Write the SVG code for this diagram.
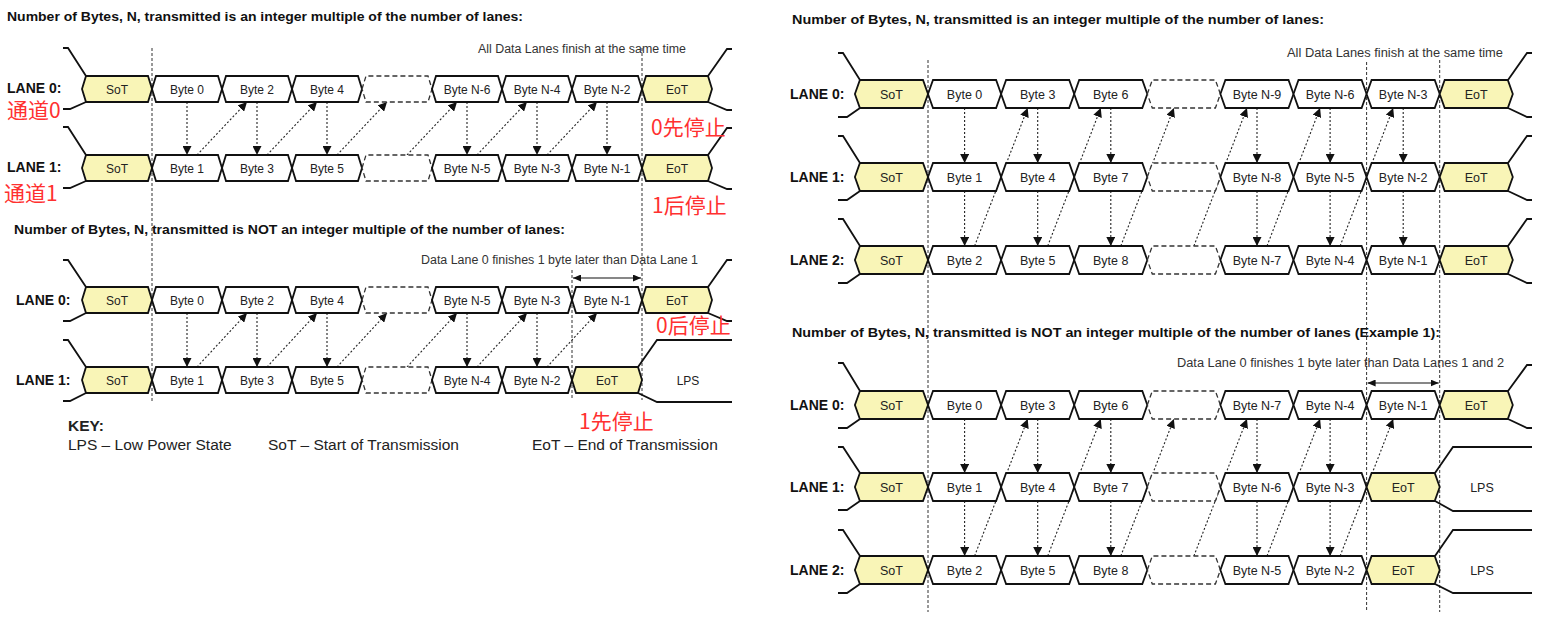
<svg xmlns="http://www.w3.org/2000/svg" width="1561" height="625" viewBox="0 0 1561 625">
<style>
text{font-family:"Liberation Sans",Arial,sans-serif}
.lbl{font-size:12px;fill:#222;text-anchor:middle}
.rl{font-size:12.5px}
.ttl{font-size:12px;font-weight:bold;fill:#111}
.lane{font-size:14px;font-weight:bold;fill:#111}
.red{font-family:"Noto Sans CJK SC","Noto Sans",sans-serif;font-size:21px;fill:#ff3030}
.note{font-size:12px;fill:#333}
.key{font-size:15.5px;fill:#222}
.bx{fill:#fff;stroke:#111;stroke-width:1.8}
.ct{fill:#f9f5b7;stroke:#111;stroke-width:1.8}
.dx{fill:#fff;stroke:#333;stroke-width:1.3;stroke-dasharray:5 3}
.lead{fill:none;stroke:#111;stroke-width:1.8}
.tl{fill:none;stroke:#333;stroke-width:1;stroke-dasharray:3 2}
.ar{fill:none;stroke:#222;stroke-width:1.1;stroke-dasharray:2 2;marker-end:url(#ah)}
.dbl{fill:none;stroke:#111;stroke-width:1.1;marker-start:url(#ad);marker-end:url(#ad)}
</style>
<defs>
<path id="L" d="M0,13 L4,0 H66 L70,13 L66,26 H4 Z"/>
<path id="R" d="M0,14 L5,0 H68.1 L73.1,14 L68.1,28 H5 Z"/>
<marker id="ah" markerWidth="9" markerHeight="9" refX="9" refY="4.5" orient="auto" markerUnits="userSpaceOnUse"><path d="M0,0 L9,4.5 L0,9 Z" fill="#111"/></marker>
<marker id="ad" markerWidth="8" markerHeight="7" refX="8" refY="3.5" orient="auto-start-reverse" markerUnits="userSpaceOnUse"><path d="M0,0 L8,3.5 L0,7 Z" fill="#111"/></marker>
</defs>
<rect width="1561" height="625" fill="#fff"/>

<g id="connectors">
<!-- timing lines -->
<path class="tl" d="M152,48 V402 M642,48 V400 M572,270 V400"/>
<path class="tl" d="M928,60 V612 M1366.6,62 V612 M1439.7,60 V612"/>
<!-- leads top-left -->
<path class="lead" d="M63,48 H68 L86,76 M86,102 L70,109 H63 M63,127 H68 L86,155 M86,181 L70,188 H63"/>
<path class="lead" d="M708,76 L727,49 H732 M708,102 L727,110 H732 M708,155 L727,128 H732 M708,181 L727,189 H732"/>
<!-- leads lower-left -->
<path class="lead" d="M63,260 H68 L86,287 M86,313 L70,321 H63 M63,340 H68 L86,367 M86,393 L70,401 H63"/>
<path class="lead" d="M708,287 L727,260 H732 M708,313 L727,321 H732 M638,367 L657,340 H732 M638,393 L657,402 H732"/>
<!-- leads top-right -->
<path class="lead" d="M838,53 H843 L860,80 M860,108 L847,117 H838 M838,136 H843 L860,163 M860,191 L847,200 H838 M838,219 H843 L860,246 M860,274 L847,283 H838"/>
<path class="lead" d="M1508,80 L1527,53 H1532 M1508,108 L1527,117 H1532 M1508,163 L1527,136 H1532 M1508,191 L1527,200 H1532 M1508,246 L1527,219 H1532 M1508,274 L1527,283 H1532"/>
<!-- leads bottom-right -->
<path class="lead" d="M838,363 H843 L860,391 M860,419 L847,428 H838 M838,447 H843 L860,473 M860,501 L847,510 H838 M838,530 H843 L860,556 M860,584 L847,593 H838"/>
<path class="lead" d="M1508,391 L1527,365 H1532 M1508,419 L1527,428 H1532 M1435,473 L1453,447 H1532 M1435,501 L1453,511 H1532 M1435,556 L1453,530 H1532 M1435,584 L1453,593 H1532"/>
<!-- arrows top-left -->
<path class="ar" d="M187,102 V155"/><path class="ar" d="M257,102 V155"/><path class="ar" d="M327,102 V155"/>
<path class="ar" d="M467,102 V155"/><path class="ar" d="M537,102 V155"/><path class="ar" d="M607,102 V155"/>
<path class="ar" d="M197,155 L247,102"/><path class="ar" d="M267,155 L317,102"/><path class="ar" d="M337,155 L387,102"/>
<path class="ar" d="M407,155 L457,102"/><path class="ar" d="M477,155 L527,102"/><path class="ar" d="M547,155 L597,102"/>
<!-- arrows lower-left -->
<path class="ar" d="M187,313 V367"/><path class="ar" d="M257,313 V367"/><path class="ar" d="M327,313 V367"/>
<path class="ar" d="M467,313 V367"/><path class="ar" d="M537,313 V367"/>
<path class="ar" d="M197,367 L247,313"/><path class="ar" d="M267,367 L317,313"/><path class="ar" d="M337,367 L387,313"/>
<path class="ar" d="M407,367 L457,313"/><path class="ar" d="M477,367 L527,313"/><path class="ar" d="M547,367 L597,313"/>
<path class="dbl" d="M573,278 H641"/>
<!-- arrows top-right -->
<path class="ar" d="M964.6,108 V163"/><path class="ar" d="M1037.7,108 V163"/><path class="ar" d="M1110.8,108 V163"/>
<path class="ar" d="M1257,108 V163"/><path class="ar" d="M1330.1,108 V163"/><path class="ar" d="M1403.2,108 V163"/>
<path class="ar" d="M964.6,191 V246"/><path class="ar" d="M1037.7,191 V246"/><path class="ar" d="M1110.8,191 V246"/>
<path class="ar" d="M1257,191 V246"/><path class="ar" d="M1330.1,191 V246"/><path class="ar" d="M1403.2,191 V246"/>
<path class="ar" d="M974.6,246 L1027.7,108"/><path class="ar" d="M1047.7,246 L1100.8,108"/><path class="ar" d="M1120.8,246 L1173.9,108"/>
<path class="ar" d="M1193.9,246 L1247,108"/><path class="ar" d="M1267,246 L1320.1,108"/><path class="ar" d="M1340.1,246 L1393.2,108"/>
<!-- arrows bottom-right -->
<path class="ar" d="M964.6,419 V473"/><path class="ar" d="M1037.7,419 V473"/><path class="ar" d="M1110.8,419 V473"/>
<path class="ar" d="M1257,419 V473"/><path class="ar" d="M1330.1,419 V473"/>
<path class="ar" d="M964.6,501 V556"/><path class="ar" d="M1037.7,501 V556"/><path class="ar" d="M1110.8,501 V556"/>
<path class="ar" d="M1257,501 V556"/><path class="ar" d="M1330.1,501 V556"/>
<path class="ar" d="M974.6,556 L1027.7,419"/><path class="ar" d="M1047.7,556 L1100.8,419"/><path class="ar" d="M1120.8,556 L1173.9,419"/>
<path class="ar" d="M1193.9,556 L1247,419"/><path class="ar" d="M1267,556 L1320.1,419"/><path class="ar" d="M1340.1,556 L1393.2,419"/>
<path class="dbl" d="M1367.6,383 H1438.7"/>
</g>

<!-- titles and notes -->
<text class="ttl" x="7" y="21" textLength="516" lengthAdjust="spacingAndGlyphs">Number of Bytes, N, transmitted is an integer multiple of the number of lanes:</text>
<text class="ttl" x="14" y="234" textLength="551" lengthAdjust="spacingAndGlyphs">Number of Bytes, N, transmitted is NOT an integer multiple of the number of lanes:</text>
<text class="ttl" x="792" y="24" textLength="532" lengthAdjust="spacingAndGlyphs">Number of Bytes, N, transmitted is an integer multiple of the number of lanes:</text>
<text class="ttl" x="792" y="337" textLength="648" lengthAdjust="spacingAndGlyphs">Number of Bytes, N, transmitted is NOT an integer multiple of the number of lanes (Example 1):</text>
<text class="note" x="478" y="53" textLength="208" lengthAdjust="spacingAndGlyphs">All Data Lanes finish at the same time</text>
<text class="note" x="1287" y="57" textLength="216" lengthAdjust="spacingAndGlyphs">All Data Lanes finish at the same time</text>
<text class="note" x="421" y="264" textLength="277" lengthAdjust="spacingAndGlyphs">Data Lane 0 finishes 1 byte later than Data Lane 1</text>
<text class="note" x="1177" y="367" textLength="327" lengthAdjust="spacingAndGlyphs">Data Lane 0 finishes 1 byte later than Data Lanes 1 and 2</text>

<text class="lane" x="7" y="93">LANE 0:</text>
<text class="lane" x="7" y="172">LANE 1:</text>
<text class="lane" x="16" y="305">LANE 0:</text>
<text class="lane" x="16" y="385">LANE 1:</text>
<text class="lane" x="790" y="99">LANE 0:</text>
<text class="lane" x="790" y="182">LANE 1:</text>
<text class="lane" x="790" y="265">LANE 2:</text>
<text class="lane" x="790" y="410">LANE 0:</text>
<text class="lane" x="790" y="492">LANE 1:</text>
<text class="lane" x="790" y="575">LANE 2:</text>

<!-- top-left lane 0 -->
<g id="a0-sot"><use href="#L" x="82" y="76" class="ct"/><text class="lbl" x="117" y="93.5">SoT</text></g>
<g id="a0-b0"><use href="#L" x="152" y="76" class="bx"/><text class="lbl" x="187" y="93.5">Byte 0</text></g>
<g id="a0-b2"><use href="#L" x="222" y="76" class="bx"/><text class="lbl" x="257" y="93.5">Byte 2</text></g>
<g id="a0-b4"><use href="#L" x="292" y="76" class="bx"/><text class="lbl" x="327" y="93.5">Byte 4</text></g>
<g id="a0-dots"><use href="#L" x="362" y="76" class="dx"/></g>
<g id="a0-bn6"><use href="#L" x="432" y="76" class="bx"/><text class="lbl" x="467" y="93.5">Byte N-6</text></g>
<g id="a0-bn4"><use href="#L" x="502" y="76" class="bx"/><text class="lbl" x="537" y="93.5">Byte N-4</text></g>
<g id="a0-bn2"><use href="#L" x="572" y="76" class="bx"/><text class="lbl" x="607" y="93.5">Byte N-2</text></g>
<g id="a0-eot"><use href="#L" x="642" y="76" class="ct"/><text class="lbl" x="677" y="93.5">EoT</text></g>
<!-- top-left lane 1 -->
<g id="a1-sot"><use href="#L" x="82" y="155" class="ct"/><text class="lbl" x="117" y="172.5">SoT</text></g>
<g id="a1-b1"><use href="#L" x="152" y="155" class="bx"/><text class="lbl" x="187" y="172.5">Byte 1</text></g>
<g id="a1-b3"><use href="#L" x="222" y="155" class="bx"/><text class="lbl" x="257" y="172.5">Byte 3</text></g>
<g id="a1-b5"><use href="#L" x="292" y="155" class="bx"/><text class="lbl" x="327" y="172.5">Byte 5</text></g>
<g id="a1-dots"><use href="#L" x="362" y="155" class="dx"/></g>
<g id="a1-bn5"><use href="#L" x="432" y="155" class="bx"/><text class="lbl" x="467" y="172.5">Byte N-5</text></g>
<g id="a1-bn3"><use href="#L" x="502" y="155" class="bx"/><text class="lbl" x="537" y="172.5">Byte N-3</text></g>
<g id="a1-bn1"><use href="#L" x="572" y="155" class="bx"/><text class="lbl" x="607" y="172.5">Byte N-1</text></g>
<g id="a1-eot"><use href="#L" x="642" y="155" class="ct"/><text class="lbl" x="677" y="172.5">EoT</text></g>

<!-- lower-left lane 0 -->
<g id="b0-sot"><use href="#L" x="82" y="287" class="ct"/><text class="lbl" x="117" y="304.5">SoT</text></g>
<g id="b0-b0"><use href="#L" x="152" y="287" class="bx"/><text class="lbl" x="187" y="304.5">Byte 0</text></g>
<g id="b0-b2"><use href="#L" x="222" y="287" class="bx"/><text class="lbl" x="257" y="304.5">Byte 2</text></g>
<g id="b0-b4"><use href="#L" x="292" y="287" class="bx"/><text class="lbl" x="327" y="304.5">Byte 4</text></g>
<g id="b0-dots"><use href="#L" x="362" y="287" class="dx"/></g>
<g id="b0-bn5"><use href="#L" x="432" y="287" class="bx"/><text class="lbl" x="467" y="304.5">Byte N-5</text></g>
<g id="b0-bn3"><use href="#L" x="502" y="287" class="bx"/><text class="lbl" x="537" y="304.5">Byte N-3</text></g>
<g id="b0-bn1"><use href="#L" x="572" y="287" class="bx"/><text class="lbl" x="607" y="304.5">Byte N-1</text></g>
<g id="b0-eot"><use href="#L" x="642" y="287" class="ct"/><text class="lbl" x="677" y="304.5">EoT</text></g>
<!-- lower-left lane 1 -->
<g id="b1-sot"><use href="#L" x="82" y="367" class="ct"/><text class="lbl" x="117" y="384.5">SoT</text></g>
<g id="b1-b1"><use href="#L" x="152" y="367" class="bx"/><text class="lbl" x="187" y="384.5">Byte 1</text></g>
<g id="b1-b3"><use href="#L" x="222" y="367" class="bx"/><text class="lbl" x="257" y="384.5">Byte 3</text></g>
<g id="b1-b5"><use href="#L" x="292" y="367" class="bx"/><text class="lbl" x="327" y="384.5">Byte 5</text></g>
<g id="b1-dots"><use href="#L" x="362" y="367" class="dx"/></g>
<g id="b1-bn4"><use href="#L" x="432" y="367" class="bx"/><text class="lbl" x="467" y="384.5">Byte N-4</text></g>
<g id="b1-bn2"><use href="#L" x="502" y="367" class="bx"/><text class="lbl" x="537" y="384.5">Byte N-2</text></g>
<g id="b1-eot"><use href="#L" x="572" y="367" class="ct"/><text class="lbl" x="607" y="384.5">EoT</text></g>
<g id="b1-lps"><text class="lbl" x="688" y="384.5">LPS</text></g>

<!-- top-right lane 0 -->
<g id="c0-sot"><use href="#R" x="854.9" y="80" class="ct"/><text class="lbl rl" x="891.45" y="99">SoT</text></g>
<g id="c0-b0"><use href="#R" x="928" y="80" class="bx"/><text class="lbl rl" x="964.55" y="99">Byte 0</text></g>
<g id="c0-b3"><use href="#R" x="1001.1" y="80" class="bx"/><text class="lbl rl" x="1037.65" y="99">Byte 3</text></g>
<g id="c0-b6"><use href="#R" x="1074.2" y="80" class="bx"/><text class="lbl rl" x="1110.75" y="99">Byte 6</text></g>
<g id="c0-dots"><use href="#R" x="1147.3" y="80" class="dx"/></g>
<g id="c0-bn9"><use href="#R" x="1220.4" y="80" class="bx"/><text class="lbl rl" x="1256.95" y="99">Byte N-9</text></g>
<g id="c0-bn6"><use href="#R" x="1293.5" y="80" class="bx"/><text class="lbl rl" x="1330.05" y="99">Byte N-6</text></g>
<g id="c0-bn3"><use href="#R" x="1366.6" y="80" class="bx"/><text class="lbl rl" x="1403.15" y="99">Byte N-3</text></g>
<g id="c0-eot"><use href="#R" x="1439.7" y="80" class="ct"/><text class="lbl rl" x="1476.25" y="99">EoT</text></g>
<!-- top-right lane 1 -->
<g id="c1-sot"><use href="#R" x="854.9" y="163" class="ct"/><text class="lbl rl" x="891.45" y="182">SoT</text></g>
<g id="c1-b1"><use href="#R" x="928" y="163" class="bx"/><text class="lbl rl" x="964.55" y="182">Byte 1</text></g>
<g id="c1-b4"><use href="#R" x="1001.1" y="163" class="bx"/><text class="lbl rl" x="1037.65" y="182">Byte 4</text></g>
<g id="c1-b7"><use href="#R" x="1074.2" y="163" class="bx"/><text class="lbl rl" x="1110.75" y="182">Byte 7</text></g>
<g id="c1-dots"><use href="#R" x="1147.3" y="163" class="dx"/></g>
<g id="c1-bn8"><use href="#R" x="1220.4" y="163" class="bx"/><text class="lbl rl" x="1256.95" y="182">Byte N-8</text></g>
<g id="c1-bn5"><use href="#R" x="1293.5" y="163" class="bx"/><text class="lbl rl" x="1330.05" y="182">Byte N-5</text></g>
<g id="c1-bn2"><use href="#R" x="1366.6" y="163" class="bx"/><text class="lbl rl" x="1403.15" y="182">Byte N-2</text></g>
<g id="c1-eot"><use href="#R" x="1439.7" y="163" class="ct"/><text class="lbl rl" x="1476.25" y="182">EoT</text></g>
<!-- top-right lane 2 -->
<g id="c2-sot"><use href="#R" x="854.9" y="246" class="ct"/><text class="lbl rl" x="891.45" y="265">SoT</text></g>
<g id="c2-b2"><use href="#R" x="928" y="246" class="bx"/><text class="lbl rl" x="964.55" y="265">Byte 2</text></g>
<g id="c2-b5"><use href="#R" x="1001.1" y="246" class="bx"/><text class="lbl rl" x="1037.65" y="265">Byte 5</text></g>
<g id="c2-b8"><use href="#R" x="1074.2" y="246" class="bx"/><text class="lbl rl" x="1110.75" y="265">Byte 8</text></g>
<g id="c2-dots"><use href="#R" x="1147.3" y="246" class="dx"/></g>
<g id="c2-bn7"><use href="#R" x="1220.4" y="246" class="bx"/><text class="lbl rl" x="1256.95" y="265">Byte N-7</text></g>
<g id="c2-bn4"><use href="#R" x="1293.5" y="246" class="bx"/><text class="lbl rl" x="1330.05" y="265">Byte N-4</text></g>
<g id="c2-bn1"><use href="#R" x="1366.6" y="246" class="bx"/><text class="lbl rl" x="1403.15" y="265">Byte N-1</text></g>
<g id="c2-eot"><use href="#R" x="1439.7" y="246" class="ct"/><text class="lbl rl" x="1476.25" y="265">EoT</text></g>

<!-- bottom-right lane 0 -->
<g id="d0-sot"><use href="#R" x="854.9" y="391" class="ct"/><text class="lbl rl" x="891.45" y="410">SoT</text></g>
<g id="d0-b0"><use href="#R" x="928" y="391" class="bx"/><text class="lbl rl" x="964.55" y="410">Byte 0</text></g>
<g id="d0-b3"><use href="#R" x="1001.1" y="391" class="bx"/><text class="lbl rl" x="1037.65" y="410">Byte 3</text></g>
<g id="d0-b6"><use href="#R" x="1074.2" y="391" class="bx"/><text class="lbl rl" x="1110.75" y="410">Byte 6</text></g>
<g id="d0-dots"><use href="#R" x="1147.3" y="391" class="dx"/></g>
<g id="d0-bn7"><use href="#R" x="1220.4" y="391" class="bx"/><text class="lbl rl" x="1256.95" y="410">Byte N-7</text></g>
<g id="d0-bn4"><use href="#R" x="1293.5" y="391" class="bx"/><text class="lbl rl" x="1330.05" y="410">Byte N-4</text></g>
<g id="d0-bn1"><use href="#R" x="1366.6" y="391" class="bx"/><text class="lbl rl" x="1403.15" y="410">Byte N-1</text></g>
<g id="d0-eot"><use href="#R" x="1439.7" y="391" class="ct"/><text class="lbl rl" x="1476.25" y="410">EoT</text></g>
<!-- bottom-right lane 1 -->
<g id="d1-sot"><use href="#R" x="854.9" y="473" class="ct"/><text class="lbl rl" x="891.45" y="492">SoT</text></g>
<g id="d1-b1"><use href="#R" x="928" y="473" class="bx"/><text class="lbl rl" x="964.55" y="492">Byte 1</text></g>
<g id="d1-b4"><use href="#R" x="1001.1" y="473" class="bx"/><text class="lbl rl" x="1037.65" y="492">Byte 4</text></g>
<g id="d1-b7"><use href="#R" x="1074.2" y="473" class="bx"/><text class="lbl rl" x="1110.75" y="492">Byte 7</text></g>
<g id="d1-dots"><use href="#R" x="1147.3" y="473" class="dx"/></g>
<g id="d1-bn6"><use href="#R" x="1220.4" y="473" class="bx"/><text class="lbl rl" x="1256.95" y="492">Byte N-6</text></g>
<g id="d1-bn3"><use href="#R" x="1293.5" y="473" class="bx"/><text class="lbl rl" x="1330.05" y="492">Byte N-3</text></g>
<g id="d1-eot"><use href="#R" x="1366.6" y="473" class="ct"/><text class="lbl rl" x="1403.15" y="492">EoT</text></g>
<g id="d1-lps"><text class="lbl rl" x="1482" y="492">LPS</text></g>
<!-- bottom-right lane 2 -->
<g id="d2-sot"><use href="#R" x="854.9" y="556" class="ct"/><text class="lbl rl" x="891.45" y="575">SoT</text></g>
<g id="d2-b2"><use href="#R" x="928" y="556" class="bx"/><text class="lbl rl" x="964.55" y="575">Byte 2</text></g>
<g id="d2-b5"><use href="#R" x="1001.1" y="556" class="bx"/><text class="lbl rl" x="1037.65" y="575">Byte 5</text></g>
<g id="d2-b8"><use href="#R" x="1074.2" y="556" class="bx"/><text class="lbl rl" x="1110.75" y="575">Byte 8</text></g>
<g id="d2-dots"><use href="#R" x="1147.3" y="556" class="dx"/></g>
<g id="d2-bn5"><use href="#R" x="1220.4" y="556" class="bx"/><text class="lbl rl" x="1256.95" y="575">Byte N-5</text></g>
<g id="d2-bn2"><use href="#R" x="1293.5" y="556" class="bx"/><text class="lbl rl" x="1330.05" y="575">Byte N-2</text></g>
<g id="d2-eot"><use href="#R" x="1366.6" y="556" class="ct"/><text class="lbl rl" x="1403.15" y="575">EoT</text></g>
<g id="d2-lps"><text class="lbl rl" x="1482" y="575">LPS</text></g>

<!-- key -->
<g id="key">
<text class="key" x="68" y="431" font-weight="bold">KEY:</text>
<text class="key" x="68" y="450">LPS – Low Power State</text>
<text class="key" x="268" y="450">SoT – Start of Transmission</text>
<text class="key" x="532" y="450">EoT – End of Transmission</text>
</g>

<!-- red annotations -->
<g id="annotations">
<text class="red" x="7" y="117.5">通道0</text>
<text class="red" x="4" y="201">通道1</text>
<text class="red" x="651" y="135">0先停止</text>
<text class="red" x="652" y="213">1后停止</text>
<text class="red" x="656" y="333">0后停止</text>
<text class="red" x="579" y="429">1先停止</text>
</g>
</svg>
